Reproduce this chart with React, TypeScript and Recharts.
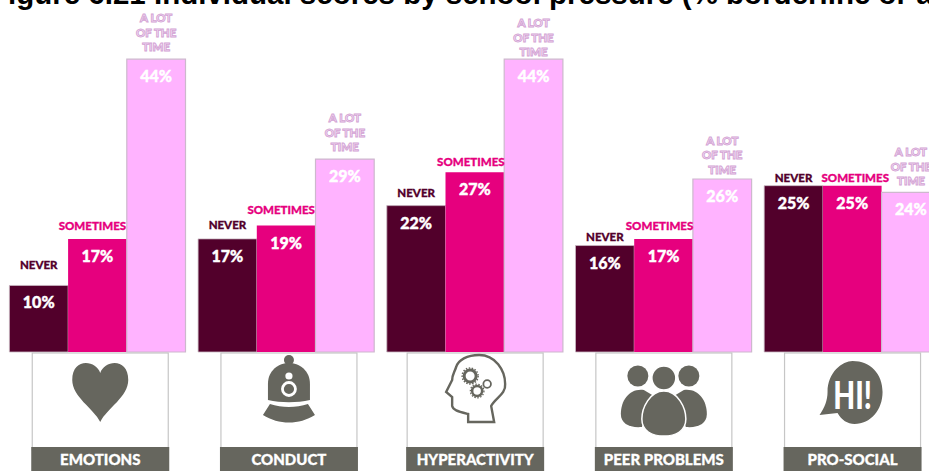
import { BarChart, Bar, XAxis, YAxis } from "recharts";

const categories = ["EMOTIONS", "CONDUCT", "HYPERACTIVITY", "PEER PROBLEMS", "PRO-SOCIAL"];
const never = [10, 17, 22, 16, 25];
const sometimes = [17, 19, 27, 17, 25];
const aLot = [44, 29, 44, 26, 24];

const DARK = "#52002b";
const PINK = "#e6007e";
const LIGHT = "#ffb3ff";
const GREY = "#66665e";
const FONT = "Lato, 'Noto Sans', sans-serif";

// gap between bar top and caption baseline, per group
const neverLift = [16, 10, 9, 5, 4];
const sometimesLift = [9, 12, 6, 9, 4];
const aLotLift = [8, 8, 3, 5, 7];
const sometimesShift = [-5, -5, -4, -4, 3];
const noShift = [0, 0, 0, 0, 0];

const rows = categories.map((name, i) => ({
  name,
  never: never[i],
  sometimes: sometimes[i],
  aLot: aLot[i],
}));

// little pictograms, drawn around (0,0) in the middle of each panel
function Icon({ index }: { index: number }) {
  if (index === 0) {
    return (
      <path
        fill={GREY}
        d="M0,-27 C-4,-40 -28,-43 -28,-20 C-28,-3 -7,8 0,22 C7,8 28,-3 28,-20 C28,-43 4,-40 0,-27 Z"
      />
    );
  }
  if (index === 1) {
    return (
      <g>
        <circle cx={0} cy={-40} r={5} fill={GREY} />
        <path fill={GREY} d="M-21,0 L-21,-16 C-21,-30 -10,-37 0,-37 C10,-37 21,-30 21,-16 L21,0 C8,3 -8,3 -21,0 Z" />
        <path fill={GREY} d="M-19,4 C-7,8 7,8 19,4 L26,15 C10,25 -10,25 -26,15 Z" />
        <circle cx={0} cy={-11} r={6.5} fill={GREY} stroke="#fff" strokeWidth={2.8} />
        <circle cx={0} cy={-24} r={3.6} fill="#fff" />
      </g>
    );
  }
  if (index === 2) {
    return (
      <g fill="none" stroke={GREY}>
        <path
          strokeWidth={2.4}
          d="M-7,22 L19,22 L16,6 C20,-2 31,-6 30,-16 C30,-30 20,-45 4,-45 C-8,-45 -17,-40 -19,-33 C-21,-27 -23,-25 -23,-20 L-29,-8 L-23,-3 L-23,6 C-22,10 -18,11 -7,14 Z"
        />
        <circle cx={-5} cy={-24} r={6} strokeWidth={3} />
        <circle cx={-5} cy={-24} r={8} strokeWidth={1.5} strokeDasharray="1.5 1.5" />
        <circle cx={2} cy={-9} r={5} strokeWidth={2.5} />
        <circle cx={2} cy={-9} r={6.8} strokeWidth={1.3} strokeDasharray="1.5 1.5" />
        <circle cx={12} cy={-16} r={3.8} strokeWidth={1.8} />
      </g>
    );
  }
  if (index === 3) {
    return (
      <g fill={GREY}>
        <circle cx={-26} cy={-24} r={10.5} />
        <circle cx={25} cy={-24} r={10.5} />
        <path d="M-20,-10 C-34,-12 -43,0 -43,14 C-43,24 -34,28 -22,27 L-10,-4 Z" />
        <path d="M20,-10 C34,-12 43,0 43,14 C43,24 34,28 22,27 L10,-4 Z" />
        <g stroke="#fff" strokeWidth={1.5}>
          <circle cx={0} cy={-22} r={12} />
          <path d="M0,-9 C-14,-9 -22,8 -22,19 C-22,31 -12,36 0,36 C12,36 22,31 22,19 C22,8 14,-9 0,-9 Z" />
        </g>
      </g>
    );
  }
  return (
    <g>
      <path
        fill={GREY}
        d="M-25,-8 C-25,-28 -10,-39 0,-39 C18,-39 30,-26 30,-8 C30,10 18,24 2,24 C-5,24 -11,20 -15,13 L-33,15 C-28,8 -25,0 -25,-8 Z"
      />
      <text
        transform="translate(0,9) scale(1.05,1.4)"
        textAnchor="middle"
        fontFamily={FONT}
        fontWeight={900}
        fontSize={27}
        fill="#fff"
      >
        HI!
      </text>
    </g>
  );
}

// panel below each group: framed icon with the dimension name on a grey band
function DimensionTick({ x, y, index, payload }: any) {
  const nudge = index < 2 ? 2.5 : 0;
  const cx = x + nudge;
  return (
    <g>
      <rect x={cx - 68} y={y + 1} width={136} height={97} fill="#fff" stroke="#c6c6c6" strokeWidth={1.2} />
      <g transform={`translate(${cx},${y + 48})`}>
        <Icon index={index} />
      </g>
      <rect x={cx - 69} y={y + 95} width={138} height={26} fill={GREY} />
      <text
        x={cx}
        y={y + 113}
        textAnchor="middle"
        fontFamily={FONT}
        fontWeight={900}
        fontSize={15}
        fill="#fff"
        stroke="#fff"
        strokeWidth={0.3}
      >
        {payload.value}
      </text>
    </g>
  );
}

function barLabel(lines: string[], color: string, lift: number[], shift: number[], outlined: boolean) {
  return ({ x, y, width, value, index }: any) => {
    const cx = x + width / 2;
    const lineGap = 14.5;
    return (
      <g fontFamily={FONT} fontWeight={900} textAnchor="middle">
        <text x={cx} y={y + 23} fontSize={16} fill="#fff" stroke="#fff" strokeWidth={0.4}>
          {value}%
        </text>
        {lines.map((line, i) => (
          <text
            key={line}
            x={cx + shift[index]}
            y={y - lift[index] - (lines.length - 1 - i) * lineGap}
            fontSize={11.5}
            fill={outlined ? "#f7e4f7" : color}
            stroke={outlined ? "#d3a3d4" : color}
            strokeWidth={outlined ? 0.9 : 0.3}
          >
            {line}
          </text>
        ))}
      </g>
    );
  };
}

export default function App() {
  return (
    <div style={{ position: "absolute", left: 0, top: 0, width: 929, height: 471, overflow: "hidden", background: "#fff" }}>
      <BarChart
        width={950}
        height={471}
        data={rows}
        margin={{ top: 0, right: 3.1, bottom: 0, left: 3.4 }}
        barSize={58.7}
        barGap={0}
      >
        <YAxis hide domain={[0, 52.9]} />
        <XAxis
          dataKey="name"
          height={119}
          interval={0}
          axisLine={false}
          tickLine={false}
          tickSize={0}
          tickMargin={0}
          tick={<DimensionTick />}
        />
        <Bar
          dataKey="never"
          fill={DARK}
          stroke="#c9b9c3"
          strokeWidth={0.8}
          isAnimationActive={false}
          label={barLabel(["NEVER"], DARK, neverLift, noShift, false)}
        />
        <Bar
          dataKey="sometimes"
          fill={PINK}
          isAnimationActive={false}
          label={barLabel(["SOMETIMES"], PINK, sometimesLift, sometimesShift, false)}
        />
        <Bar
          dataKey="aLot"
          fill={LIGHT}
          stroke="#cdb8cd"
          strokeWidth={1.2}
          isAnimationActive={false}
          label={barLabel(["A LOT", "OF THE", "TIME"], LIGHT, aLotLift, noShift, true)}
        />
      </BarChart>
      <div
        style={{
          position: "absolute",
          left: -10,
          top: -23,
          whiteSpace: "nowrap",
          font: "bold 29.5px 'Liberation Sans', Arial, sans-serif",
          color: "#000",
        }}
      >
        Figure 6.21 Individual scores by school pressure (% borderline or abnormal)
      </div>
    </div>
  );
}
